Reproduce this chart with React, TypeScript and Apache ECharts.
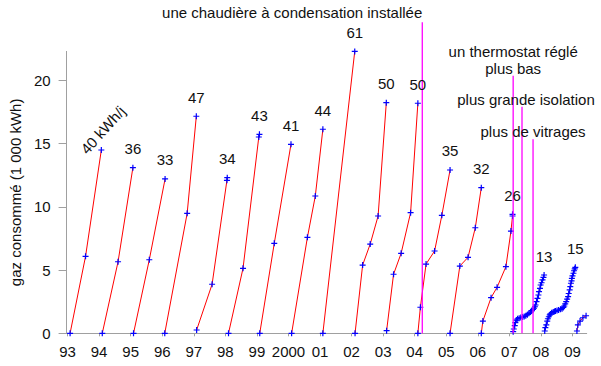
import React, { useEffect, useRef } from "react";
import * as echarts from "echarts";

// x values are years counted from 1900 (93 = 1993, 100 = 2000, 109 = 2009)
const xTickValues = [93, 94, 95, 96, 97, 98, 99, 100, 101, 102, 103, 104, 105, 106, 107, 108, 109];
const xTickLabels = ["93", "94", "95", "96", "97", "98", "99", "2000", "01", "02", "03", "04", "05", "06", "07", "08", "09"];
const yTickValues = [0, 5, 10, 15, 20];

// cumulative gas consumption (1 000 kWh) for each heating year
const s93: number[][] = [[93.08, 0], [93.57, 6.09], [94.07, 14.5]];
const s94: number[][] = [[94.1, 0], [94.6, 5.66], [95.07, 13.1]];
const s95: number[][] = [[95.09, 0], [95.59, 5.82], [96.09, 12.21]];
const s96: number[][] = [[96.08, 0], [96.79, 9.49], [97.08, 17.17]];
const s97: number[][] = [[97.09, 0.26], [97.58, 3.88], [98.05, 12.1], [98.06, 12.31]];
const s98: number[][] = [[98.1, 0], [98.56, 5.14], [99.06, 15.53], [99.08, 15.74]];
const s99: number[][] = [[99.09, 0], [99.55, 7.12], [100.08, 14.95]];
const s00: number[][] = [[100.1, 0], [100.6, 7.59], [100.85, 10.86], [101.09, 16.14]];
const s01: number[][] = [[101.09, 0], [102.1, 22.3]];
const s02: number[][] = [[102.11, 0], [102.35, 5.4], [102.59, 7.06], [102.84, 9.28], [103.1, 18.24]];
const s03: number[][] = [[103.11, 0.21], [103.33, 4.67], [103.57, 6.33], [103.87, 9.54], [104.1, 18.2]];
const s04: number[][] = [[104.1, 0], [104.18, 2.06], [104.36, 5.48], [104.63, 6.51], [104.86, 9.33], [105.12, 12.92]];
const s05: number[][] = [[105.12, 0], [105.43, 5.32], [105.69, 6.01], [105.92, 8.35], [106.11, 11.52]];
const s06: number[][] = [[106.11, 0], [106.16, 0.97], [106.42, 2.82], [106.61, 3.64], [106.89, 5.27], [107.05, 8.09], [107.1, 9.28], [107.1, 9.41]];
const s07: number[][] = [
  [107.12, 0.13], [107.14, 0.34], [107.17, 0.6], [107.19, 0.85], [107.22, 1.05], [107.26, 1.15], [107.31, 1.2],
  [107.36, 1.24], [107.42, 1.28], [107.47, 1.33], [107.52, 1.39], [107.57, 1.47], [107.62, 1.58], [107.67, 1.68],
  [107.71, 1.79], [107.75, 1.9], [107.78, 1.98], [107.81, 2.1], [107.83, 2.24], [107.86, 2.5], [107.89, 2.77],
  [107.92, 3.03], [107.94, 3.29], [107.97, 3.55], [107.99, 3.82], [108.02, 4.0], [108.05, 4.22], [108.08, 4.42], [108.1, 4.61],
];
const s08: number[][] = [
  [108.12, 0.18], [108.14, 0.45], [108.17, 0.66], [108.2, 0.97], [108.22, 1.15], [108.25, 1.31], [108.28, 1.45],
  [108.3, 1.53], [108.34, 1.62], [108.39, 1.68], [108.43, 1.73], [108.46, 1.76], [108.51, 1.8], [108.56, 1.84],
  [108.62, 1.9], [108.67, 1.95], [108.71, 2.05], [108.74, 2.16], [108.77, 2.32], [108.8, 2.5], [108.83, 2.7],
  [108.86, 2.9], [108.88, 3.15], [108.91, 3.43], [108.93, 3.7], [108.95, 3.96], [108.97, 4.15], [108.98, 4.35],
  [109.0, 4.55], [109.03, 4.75], [109.05, 4.95], [109.07, 5.1], [109.09, 5.22],
];
const s09: number[][] = [[109.14, 0.18], [109.17, 0.66], [109.24, 0.97], [109.33, 1.23], [109.43, 1.39]];

const segments = [s93, s94, s95, s96, s97, s98, s99, s00, s01, s02, s03, s04, s05, s06, s07, s08, s09];

// average consumption (kWh/day) written above each year's end point
const topLabels = ["40 kWh/j", "36", "33", "47", "34", "43", "41", "44", "61", "50", "50", "35", "32", "26", "13", "15"];

// events (vertical magenta lines): position and top of the line
const eventX = [104.24, 107.12, 107.4, 107.75];
const eventTop = [24.6, 20.38, 17.93, 15.35];
const eventText: string[][] = [
  ["une chaudière à condensation installée"],
  ["un thermostat réglé", "plus bas"],
  ["plus grande isolation"],
  ["plus de vitrages"],
];

const FONT = '"Liberation Sans", Arial, sans-serif';
const PLUS = "path://M-0.2,-1H0.2V-0.2H1V0.2H0.2V1H-0.2V0.2H-1V-0.2H-0.2Z";

export default function App() {
  const ref = useRef<HTMLDivElement>(null);
  useEffect(() => {
    if (!ref.current) return;
    const chart = echarts.init(ref.current, null, { renderer: "svg" });
    const axisColor = "#a0a0a0";

    const lineSeries = segments.map((seg) => ({
      type: "line",
      data: seg,
      symbol: PLUS,
      symbolSize: 6,
      showSymbol: true,
      showAllSymbol: true,
      silent: true,
      z: 3,
      lineStyle: { color: "#ff0000", width: 1 },
      itemStyle: { color: "#0000ff", borderWidth: 0 },
    }));

    const tops = topLabels.map((_, i) => {
      const seg = segments[i];
      const last = seg[seg.length - 1];
      return [last[0], last[1]];
    });

    const option: any = {
      animation: false,
      grid: { left: 60.7, right: 14.3, top: 51.4, bottom: 32.7 },
      xAxis: {
        type: "value",
        min: 92.969,
        max: 109.45,
        splitLine: { show: false },
        axisLine: { show: true, lineStyle: { color: axisColor, width: 1 } },
        axisTick: { show: true, length: 3, customValues: xTickValues, lineStyle: { color: axisColor } },
        axisLabel: {
          customValues: xTickValues,
          margin: 11,
          color: "#111",
          fontSize: 15,
          fontFamily: FONT,
          formatter: (v: number) => {
            const i = xTickValues.indexOf(Math.round(v));
            return i >= 0 ? xTickLabels[i] : "";
          },
        },
      },
      yAxis: {
        type: "value",
        min: 0,
        max: 22.3,
        name: "gaz consommé (1 000 kWh)",
        nameLocation: "middle",
        nameGap: 42,
        nameTextStyle: { color: "#111", fontSize: 15, fontFamily: FONT },
        splitLine: { show: false },
        axisLine: { show: true, lineStyle: { color: axisColor, width: 1 } },
        axisTick: { show: true, length: 8, customValues: yTickValues, lineStyle: { color: axisColor } },
        axisLabel: { customValues: yTickValues, margin: 16, color: "#111", fontSize: 15, fontFamily: FONT },
      },
      series: [
        ...lineSeries,
        {
          type: "custom",
          silent: true,
          clip: false,
          z: 4,
          data: eventX.map((x, i) => [x, eventTop[i]]),
          renderItem: (params: any, api: any) => {
            const i = params.dataIndex;
            const p0 = api.coord([api.value(0), 0]);
            const p1 = api.coord([api.value(0), api.value(1)]);
            const align = i === 0 ? "right" : "center";
            const dx = i === 2 ? 4 : 0;
            const dy = i === 0 ? -2 : 0;
            const lines = eventText[i];
            const texts = lines.map((t, k) => ({
              type: "text",
              x: p1[0] + dx,
              y: p1[1] + dy - 7.5 - (lines.length - 1 - k) * 17,
              style: {
                text: t,
                fill: "#111",
                font: `15px ${FONT}`,
                align,
                verticalAlign: "middle",
              },
            }));
            return {
              type: "group",
              children: [
                {
                  type: "line",
                  shape: { x1: p0[0], y1: p0[1], x2: p1[0], y2: p1[1] },
                  style: { stroke: "#ff00ff", lineWidth: 1.3 },
                },
                ...texts,
              ],
            };
          },
        },
        {
          type: "custom",
          silent: true,
          clip: false,
          z: 5,
          data: tops,
          renderItem: (params: any, api: any) => {
            const i = params.dataIndex;
            const p = api.coord([api.value(0), api.value(1)]);
            const rotated = i === 0;
            return {
              type: "text",
              x: p[0] + (rotated ? 1.5 : 0),
              y: p[1] - (rotated ? 20 : 19),
              rotation: rotated ? (48 * Math.PI) / 180 : 0,
              style: {
                text: topLabels[i],
                fill: "#111",
                font: `15px ${FONT}`,
                align: "center",
                verticalAlign: "middle",
              },
            };
          },
        },
      ],
    };
    chart.setOption(option);
    return () => chart.dispose();
  }, []);

  return (
    <div
      ref={ref}
      style={{ position: "absolute", left: 0, top: 0, width: 601, height: 366, background: "#fff" }}
    />
  );
}
